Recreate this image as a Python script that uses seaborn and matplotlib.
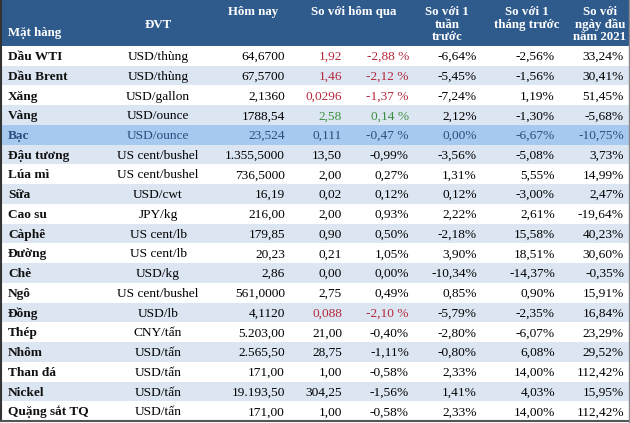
import unicodedata
import numpy as np
import pandas as pd
import seaborn as sns
import matplotlib
matplotlib.use("Agg")
import matplotlib.pyplot as plt
from matplotlib.colors import ListedColormap

# ---------------- data ----------------
items = ["Dầu WTI", "Dầu Brent", "Xăng", "Vàng", "Bạc", "Đậu tương", "Lúa mì", "Sữa",
         "Cao su", "Càphê", "Đường", "Chè", "Ngô", "Đồng", "Thép", "Nhôm", "Than đá",
         "Nickel", "Quặng sắt TQ"]
units = ["USD/thùng", "USD/thùng", "USD/gallon", "USD/ounce", "USD/ounce", "US cent/bushel",
         "US cent/bushel", "USD/cwt", "JPY/kg", "US cent/lb", "US cent/lb", "USD/kg",
         "US cent/bushel", "USD/lb", "CNY/tấn", "USD/tấn", "USD/tấn", "USD/tấn", "USD/tấn"]
today = ["64,6700", "67,5700", "2,1360", "1788,54", "23,524", "1.355,5000", "736,5000",
         "16,19", "216,00", "179,85", "20,23", "2,86", "561,0000", "4,1120", "5.203,00",
         "2.565,50", "171,00", "19.193,50", "171,00"]
chg_abs = ["1,92", "1,46", "0,0296", "2,58", "0,111", "13,50", "2,00", "0,02", "2,00",
           "0,90", "0,21", "0,00", "2,75", "0,088", "21,00", "28,75", "1,00", "304,25", "1,00"]
chg_pct = ["-2,88 %", "-2,12 %", "-1,37 %", "0,14 %", "-0,47 %", "-0,99%", "0,27%", "0,12%",
           "0,93%", "0,50%", "1,05%", "0,00%", "0,49%", "-2,10 %", "-0,40%", "-1,11%",
           "-0,58%", "-1,56%", "-0,58%"]
week = ["-6,64%", "-5,45%", "-7,24%", "2,12%", "0,00%", "-3,56%", "1,31%", "0,12%", "2,22%",
        "-2,18%", "3,90%", "-10,34%", "0,85%", "-5,79%", "-2,80%", "-0,80%", "2,33%",
        "1,41%", "2,33%"]
month = ["-2,56%", "-1,56%", "1,19%", "-1,30%", "-6,67%", "-5,08%", "5,55%", "-3,00%",
         "2,61%", "15,58%", "18,51%", "-14,37%", "0,90%", "-2,35%", "-6,07%", "6,08%",
         "14,00%", "4,03%", "14,00%"]
ytd = ["33,24%", "30,41%", "51,45%", "-5,68%", "-10,75%", "3,73%", "14,99%", "2,47%",
       "-19,64%", "40,23%", "30,60%", "-0,35%", "15,91%", "16,84%", "23,29%", "29,52%",
       "112,42%", "15,95%", "112,42%"]
# direction flag of the "so với hôm qua" columns: -1 down (red), 1 up (green), 0 neutral
day_flag = [-1, -1, -1, 1, 0, 0, 0, 0, 0, 0, 0, 0, 0, -1, 0, 0, 0, 0, 0]
highlight = "Bạc"

headers = ["Mặt hàng", "ĐVT", "Hôm nay", "So với hôm qua", "So với 1\ntuần\ntrước",
           "So với 1\ntháng trước", "So với\nngày đầu\nnăm 2021"]


def nfc(s):
    return unicodedata.normalize("NFC", s)


items = [nfc(s) for s in items]
units = [nfc(s) for s in units]
headers = [nfc(s) for s in headers]
highlight = nfc(highlight)

# ---------------- style ----------------
HEADER_BG = "#2f5b8c"
LIGHT = "#dce6f2"
WHITE = "#ffffff"
HILITE = "#a8c9ef"
RED = "#b5273a"
GREEN = "#3c8f3c"
BLUE_TXT = "#284e7e"
FONT = ["Liberation Serif", "DejaVu Serif"]

W, H = 630, 423
fig = plt.figure(figsize=(W / 100, H / 100), dpi=100)
fig.patch.set_facecolor("white")

header_h = 46
body_top, body_bot = 46, 421
n = len(items)
row_h = (body_bot - body_top) / n

# body backgrounds via seaborn heatmap
codes = []
for i, it in enumerate(items):
    codes.append(2 if it == highlight else i % 2)
df = pd.DataFrame({"bg": codes}, index=items)
ax_body = fig.add_axes([0, 1 - body_bot / H, 1, (body_bot - body_top) / H])
sns.heatmap(df, ax=ax_body, cmap=ListedColormap([WHITE, LIGHT, HILITE]), vmin=-0.5, vmax=2.5,
            cbar=False, xticklabels=False, yticklabels=False, linewidths=0)
ax_body.set_xlabel(""); ax_body.set_ylabel("")

# header background via seaborn heatmap
ax_head = fig.add_axes([0, 1 - header_h / H, 1, header_h / H])
sns.heatmap(pd.DataFrame([[0]]), ax=ax_head, cmap=ListedColormap([HEADER_BG]), cbar=False,
            xticklabels=False, yticklabels=False)

# overlay for text in pixel coordinates
ov = fig.add_axes([0, 0, 1, 1])
ov.set_xlim(0, W); ov.set_ylim(H, 0)
ov.axis("off")
ov.patch.set_alpha(0)

fs = 9.6
hfs = 9.3
BL = 4.2  # baseline offset below row centre (px)
# header text
hx = [8, 158, 253, 354, 447, 527, 600]
hy_first = [32, 24, 11.5, 11.5, 11.5, 11.5, 11.5]
for j, (txt, x) in enumerate(zip(headers, hx)):
    for k, ln in enumerate(txt.split("\n")):
        ov.text(x, hy_first[j] + k * 12.4 + 3.8, ln, ha="left" if j == 0 else "center",
                va="baseline", color="white", fontsize=hfs, fontweight="bold", family=FONT)

# body text
col_x = {"unit": 158, "today": 285, "abs": 342, "pct": 409, "week": 477, "month": 555, "ytd": 624}
for i in range(n):
    y = body_top + (i + 0.5) * row_h + BL
    base = BLUE_TXT if items[i] == highlight else "black"
    if day_flag[i] < 0:
        dc = RED
    elif day_flag[i] > 0:
        dc = GREEN
    else:
        dc = base
    kw = dict(va="baseline", fontsize=fs, family=FONT)
    ov.text(8, y, items[i], ha="left", fontweight="bold",
            color=BLUE_TXT if items[i] == highlight else "#111111", **kw)
    ov.text(col_x["unit"], y, units[i], ha="center", color=base, **kw)
    ov.text(col_x["today"], y, today[i], ha="right", color=base, **kw)
    ov.text(col_x["abs"], y, chg_abs[i], ha="right", color=dc, **kw)
    ov.text(col_x["pct"], y, chg_pct[i], ha="right", color=dc, **kw)
    ov.text(col_x["week"], y, week[i], ha="right", color=base, **kw)
    ov.text(col_x["month"], y, month[i], ha="right", color=base, **kw)
    ov.text(col_x["ytd"], y, ytd[i], ha="right", color=base, **kw)

# frame lines
ov.plot([1, 1], [0, H - 1.5], color="#333333", lw=1.5)
ov.plot([0, W], [H - 1.5, H - 1.5], color="#555555", lw=1.5)
ov.plot([W - 1, W - 1], [0, H], color="#888888", lw=1)

fig.savefig("out.png", dpi=100)
